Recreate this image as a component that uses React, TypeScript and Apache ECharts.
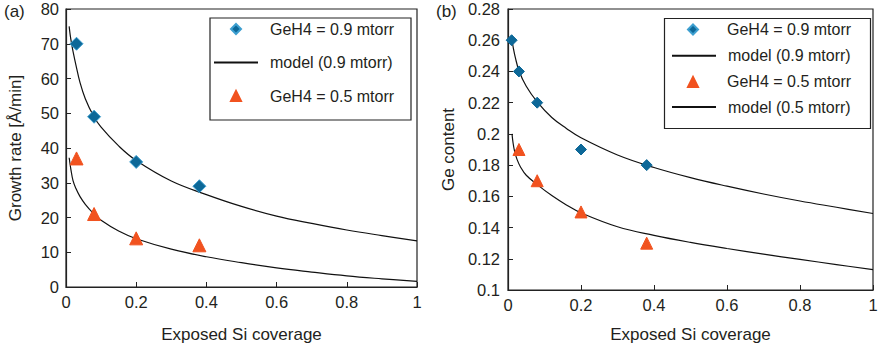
import React, { useEffect, useRef } from "react";
import * as echarts from "echarts";

// ---- data ----
const coverageA = [0.03, 0.08, 0.2, 0.38];
const rate09 = [70, 49, 36, 29];
const rate05 = [37, 21, 14, 12];

const modelRateX09 = [0.009, 0.012, 0.016, 0.02, 0.028, 0.04, 0.055, 0.078, 0.1, 0.15, 0.2, 0.3, 0.4, 0.5, 0.6, 0.7, 0.8, 0.9, 1.0];
const modelRate09 = [75, 72.5, 70, 67.8, 64, 58.8, 54.2, 49.3, 46, 40.6, 36.4, 30.5, 26.6, 23.2, 20.4, 18.3, 16.4, 14.8, 13.3];
const modelRateX05 = [0.009, 0.014, 0.02, 0.028, 0.04, 0.055, 0.078, 0.1, 0.15, 0.2, 0.3, 0.4, 0.5, 0.6, 0.7, 0.8, 0.9, 1.0];
const modelRate05 = [37.2, 33.8, 30.6, 28.4, 26.0, 23.8, 21.2, 19.2, 16.1, 13.9, 10.9, 8.7, 7.0, 5.5, 4.3, 3.2, 2.35, 1.6];

const coverageB09 = [0.01, 0.03, 0.08, 0.2, 0.38];
const ge09 = [0.26, 0.24, 0.22, 0.19, 0.18];
const coverageB05 = [0.03, 0.08, 0.2, 0.38];
const ge05 = [0.19, 0.17, 0.15, 0.13];

const modelGeX09 = [0.011, 0.015, 0.02, 0.03, 0.05, 0.08, 0.12, 0.16, 0.2, 0.3, 0.4, 0.5, 0.6, 0.7, 0.8, 0.9, 1.0];
const modelGe09 = [0.26, 0.2545, 0.249, 0.2405, 0.2305, 0.2205, 0.2105, 0.2035, 0.1975, 0.1865, 0.1785, 0.172, 0.1665, 0.1615, 0.157, 0.153, 0.149];
const modelGeX05 = [0.011, 0.014, 0.018, 0.025, 0.035, 0.05, 0.08, 0.12, 0.16, 0.2, 0.3, 0.4, 0.5, 0.6, 0.7, 0.8, 0.9, 1.0];
const modelGe05 = [0.2, 0.194, 0.189, 0.1835, 0.1785, 0.1735, 0.1675, 0.1605, 0.1545, 0.1494, 0.1405, 0.135, 0.1305, 0.1266, 0.123, 0.1196, 0.1163, 0.113];

const xTicks = { min: 0, max: 1, interval: 0.2 };
const rateTicks = { min: 0, max: 80, interval: 10 };
const geTicks = { min: 0.1, max: 0.28, interval: 0.02 };

const NAME_09 = "GeH4 = 0.9 mtorr";
const NAME_05 = "GeH4 = 0.5 mtorr";
const MODEL_09 = "model (0.9 mtorr)";
const MODEL_05 = "model (0.5 mtorr)";

const zip = (xs: number[], ys: number[]) => xs.map((x, i) => [x, ys[i]]);

const FONT = "'Liberation Sans', Arial, Helvetica, sans-serif";
const TXT = "#231f20";
const BLUE = "#0d6898";
const ORANGE = "#f1521f";

export default function App() {
  const ref = useRef<HTMLDivElement>(null);
  useEffect(() => {
    if (!ref.current) return;
    const chart = echarts.init(ref.current, undefined, { renderer: "svg" });

    const axisCommon = {
      type: "value" as const,
      axisLine: { show: true, lineStyle: { color: "#222", width: 1.2 } },
      axisTick: { show: true, inside: true, length: 5, lineStyle: { color: "#222", width: 1 } },
      splitLine: { show: false },
      axisLabel: { color: TXT, fontSize: 16.5, fontFamily: FONT },
      nameLocation: "middle" as const,
      nameTextStyle: { color: TXT, fontSize: 17, fontFamily: FONT },
    };

    const scatterStyle = (color: string, border: string) => ({
      color,
      borderColor: border,
      borderWidth: 1,
      opacity: 1,
    });
    const lineCommon = {
      type: "line" as const,
      symbol: "none",
      showSymbol: false,
      smooth: 0.4,
      lineStyle: { color: "#111", width: 1.2 },
      itemStyle: { color: "#111" },
      z: 1,
    };

    const legendBase = {
      orient: "vertical" as const,
      padding: 0,
      borderWidth: 0,
      selectedMode: false,
    };
    const symbolLegend = (left: number, top: number, gap: number) => ({
      ...legendBase,
      left,
      top,
      itemGap: gap,
      itemWidth: 10,
      itemHeight: 10,
      itemStyle: { opacity: 1 },
      textStyle: { color: TXT, fontSize: 16, fontFamily: FONT, padding: [0, 0, 0, 24] },
      data: [NAME_09, NAME_05],
    });
    const modelLegend = (left: number, top: number, gap: number, names: string[]) => ({
      ...legendBase,
      left,
      top,
      itemGap: gap,
      itemWidth: 44,
      itemHeight: 10,
      textStyle: { color: TXT, fontSize: 16, fontFamily: FONT, padding: [0, 0, 0, 7] },
      data: names.map((n) => ({ name: n, itemStyle: { opacity: 0 } })),
    });

    chart.setOption({
      animation: false,
      backgroundColor: "#fff",
      textStyle: { fontFamily: FONT },
      grid: [
        { left: 66, top: 9, width: 351, height: 279, show: true, borderColor: "#222", borderWidth: 1.2, backgroundColor: "transparent" },
        { left: 508, top: 9, width: 365, height: 282, show: true, borderColor: "#222", borderWidth: 1.2, backgroundColor: "transparent" },
      ],
      xAxis: [
        { ...axisCommon, gridIndex: 0, ...xTicks, name: "Exposed Si coverage", nameGap: 39, axisLabel: { ...axisCommon.axisLabel, margin: 6 } },
        { ...axisCommon, gridIndex: 1, ...xTicks, name: "Exposed Si coverage", nameGap: 36, axisLabel: { ...axisCommon.axisLabel, margin: 6 } },
      ],
      yAxis: [
        { ...axisCommon, gridIndex: 0, ...rateTicks, name: "Growth rate [Å/min]", nameGap: 42, axisLabel: { ...axisCommon.axisLabel, margin: 7 } },
        { ...axisCommon, gridIndex: 1, ...geTicks, name: "Ge content", nameGap: 51, axisLabel: { ...axisCommon.axisLabel, margin: 8 } },
      ],
      legend: [
        symbolLegend(230, 21, 51),
        modelLegend(213, 54.5, 10, [MODEL_09]),
        symbolLegend(687, 21.5, 36.4),
        modelLegend(671, 47.7, 35.3, [MODEL_09, MODEL_05]),
      ],
      graphic: [
        { type: "rect", left: 207.5, top: 15.5, shape: { width: 201, height: 102 }, style: { fill: "none", stroke: "#222", lineWidth: 1.2 }, z: 10 },
        { type: "rect", left: 662, top: 16, shape: { width: 206, height: 110 }, style: { fill: "none", stroke: "#222", lineWidth: 1.2 }, z: 10 },
        { type: "text", left: 4, top: 3, style: { text: "(a)", fill: TXT, font: `17px ${FONT}` } },
        { type: "text", left: 436, top: 3, style: { text: "(b)", fill: TXT, font: `17px ${FONT}` } },
      ],
      series: [
        { ...lineCommon, name: MODEL_09, xAxisIndex: 0, yAxisIndex: 0, data: zip(modelRateX09, modelRate09) },
        { ...lineCommon, name: MODEL_05, xAxisIndex: 0, yAxisIndex: 0, data: zip(modelRateX05, modelRate05) },
        { type: "scatter", name: NAME_09, xAxisIndex: 0, yAxisIndex: 0, symbol: "diamond", symbolSize: 13, itemStyle: scatterStyle(BLUE, "#3d9fd0"), data: zip(coverageA, rate09), z: 3 },
        { type: "scatter", name: NAME_05, xAxisIndex: 0, yAxisIndex: 0, symbol: "triangle", symbolSize: 13, itemStyle: scatterStyle(ORANGE, ORANGE), data: zip(coverageA, rate05), z: 3 },
        { ...lineCommon, name: MODEL_09, xAxisIndex: 1, yAxisIndex: 1, data: zip(modelGeX09, modelGe09) },
        { ...lineCommon, name: MODEL_05, xAxisIndex: 1, yAxisIndex: 1, data: zip(modelGeX05, modelGe05) },
        { type: "scatter", name: NAME_09, xAxisIndex: 1, yAxisIndex: 1, symbol: "diamond", symbolSize: 11, itemStyle: scatterStyle(BLUE, BLUE), data: zip(coverageB09, ge09), z: 3 },
        { type: "scatter", name: NAME_05, xAxisIndex: 1, yAxisIndex: 1, symbol: "triangle", symbolSize: 12, itemStyle: scatterStyle(ORANGE, ORANGE), data: zip(coverageB05, ge05), z: 3 },
      ],
    });
    return () => chart.dispose();
  }, []);

  return (
    <div
      ref={ref}
      style={{ position: "fixed", left: 0, top: 0, width: 881, height: 348, background: "#fff" }}
    />
  );
}
